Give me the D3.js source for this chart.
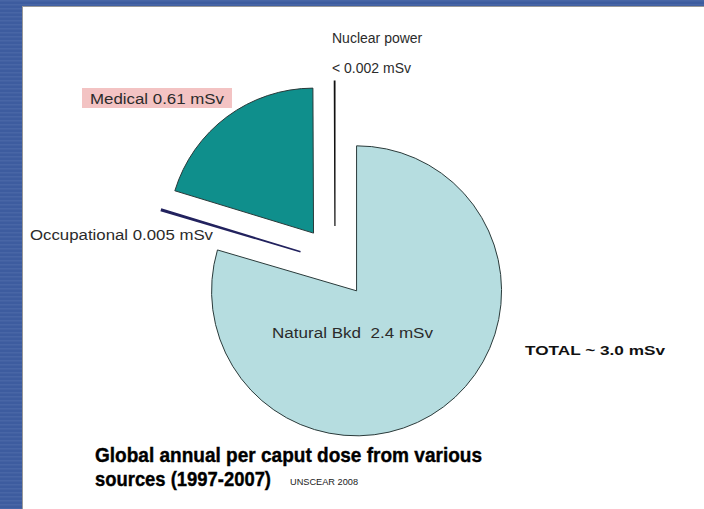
<!DOCTYPE html>
<html>
<head>
<meta charset="utf-8">
<script src="https://cdn.jsdelivr.net/npm/d3@7"></script>
<style>
  html, body { margin: 0; padding: 0; background: #3c5b9c; }
  svg { display: block; font-family: "Liberation Sans", Arial, sans-serif; }
</style>
</head>
<body>
<svg id="chart" width="704" height="509"></svg>
<script>
(function () {
  // dose sources, clockwise from 12 o'clock
  const sources = ['Natural Bkd', 'Occupational', 'Medical', 'Nuclear power'];
  const doses = [2.4, 0.005, 0.61, 0.002];
  const doseLabels = ['Natural Bkd  2.4 mSv', 'Occupational 0.005 mSv', 'Medical 0.61 mSv', '< 0.002 mSv'];
  const fills = ['#b6dde0', '#22225e', '#0f8f8c', '#111111'];

  const width = 704;
  const height = 509;
  const radius = 145;
  const explode = 36;
  const cx = 335;
  const cy = 262;

  const svg = d3.select('#chart');

  // slide frame: striped blue margin with white panel
  const defs = svg.append('defs');
  const stripes = defs.append('pattern')
    .attr('id', 'stripes')
    .attr('patternUnits', 'userSpaceOnUse')
    .attr('width', 8)
    .attr('height', 4);
  stripes.append('rect').attr('width', 8).attr('height', 4).attr('fill', '#3d5c9f');
  stripes.append('rect').attr('width', 8).attr('height', 1.5).attr('fill', '#4866a6');

  svg.append('rect').attr('width', width).attr('height', height).attr('fill', 'url(#stripes)');
  svg.append('rect')
    .attr('x', 22.5).attr('y', 6.5)
    .attr('width', width - 22).attr('height', height)
    .attr('fill', '#ffffff')
    .attr('stroke', '#9a9a9a')
    .attr('stroke-width', 1);

  const pie = d3.pie().sort(null).value(d => d)(doses);
  const arc = d3.arc().innerRadius(0).outerRadius(radius);

  const g = svg.append('g').attr('transform', `translate(${cx},${cy})`);

  g.selectAll('path.slice')
    .data(pie)
    .join('path')
    .attr('class', 'slice')
    .attr('d', arc)
    .attr('transform', d => {
      const mid = (d.startAngle + d.endAngle) / 2;
      return `translate(${Math.sin(mid) * explode},${-Math.cos(mid) * explode})`;
    })
    .attr('fill', (d, i) => fills[i])
    .attr('stroke', (d, i) => i === 1 ? '#22225e' : i === 3 ? '#111111' : '#2a3a3a')
    .attr('stroke-width', (d, i) => i === 1 ? 1.6 : i === 3 ? 1.2 : 1);

  const textColor = '#2b2b2b';

  // Nuclear power
  svg.append('text')
    .attr('x', 332).attr('y', 43)
    .attr('font-size', 14).attr('fill', textColor)
    .text(sources[3]);
  svg.append('text')
    .attr('x', 332).attr('y', 73)
    .attr('font-size', 14).attr('fill', textColor)
    .text(doseLabels[3]);

  // Medical label with pink highlight
  svg.append('rect')
    .attr('x', 82).attr('y', 88)
    .attr('width', 150).attr('height', 20)
    .attr('fill', '#f3c3c3');
  svg.append('text')
    .attr('x', 90).attr('y', 104)
    .attr('font-size', 14).attr('fill', textColor)
    .attr('textLength', 134).attr('lengthAdjust', 'spacingAndGlyphs')
    .text(doseLabels[2]);

  // Occupational
  svg.append('text')
    .attr('x', 30).attr('y', 240)
    .attr('font-size', 14).attr('fill', textColor)
    .attr('textLength', 183).attr('lengthAdjust', 'spacingAndGlyphs')
    .text(doseLabels[1]);

  // Natural background
  svg.append('text')
    .attr('x', 272).attr('y', 338)
    .attr('font-size', 14).attr('fill', textColor)
    .attr('textLength', 161).attr('lengthAdjust', 'spacingAndGlyphs')
    .style('white-space', 'pre')
    .text(doseLabels[0]);

  // Total
  svg.append('text')
    .attr('x', 525).attr('y', 355)
    .attr('font-size', 13).attr('font-weight', 'bold').attr('fill', '#111')
    .attr('textLength', 140).attr('lengthAdjust', 'spacingAndGlyphs')
    .text('TOTAL ~ ' + d3.format('.1f')(d3.sum(doses)) + ' mSv');

  // Title
  svg.append('text')
    .attr('x', 95).attr('y', 462)
    .attr('font-size', 21).attr('font-weight', 'bold').attr('fill', '#000')
    .attr('stroke', '#000').attr('stroke-width', 0.4)
    .attr('textLength', 387).attr('lengthAdjust', 'spacingAndGlyphs')
    .text('Global annual per caput dose from various');
  svg.append('text')
    .attr('x', 95).attr('y', 486)
    .attr('font-size', 21).attr('font-weight', 'bold').attr('fill', '#000')
    .attr('stroke', '#000').attr('stroke-width', 0.4)
    .attr('textLength', 176).attr('lengthAdjust', 'spacingAndGlyphs')
    .text('sources (1997-2007)');
  svg.append('text')
    .attr('x', 290).attr('y', 485)
    .attr('font-size', 9).attr('fill', '#222')
    .attr('textLength', 68).attr('lengthAdjust', 'spacingAndGlyphs')
    .text('UNSCEAR 2008');
})();
</script>
</body>
</html>
